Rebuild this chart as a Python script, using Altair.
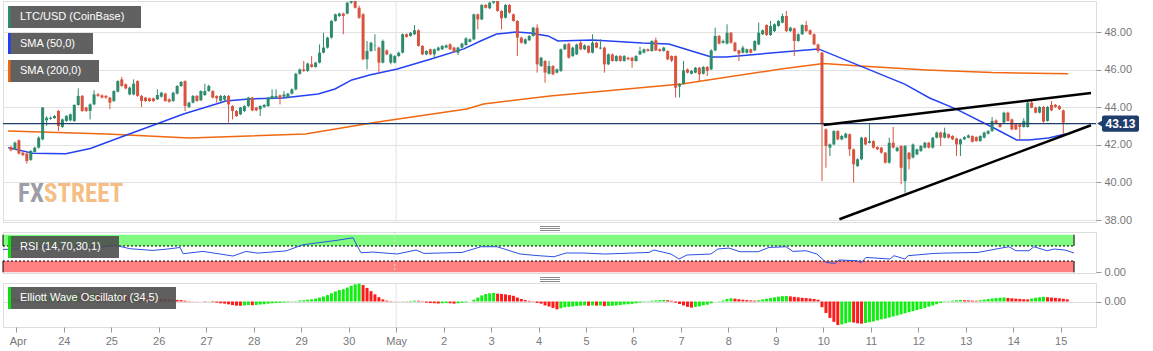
import json
import altair as alt
import pandas as pd

# ---------------- data ----------------
# 2-hour candles, hours counted from 23 Apr 00:00
FIRST_T = -2.7
STEP_T = 2.0

OPEN = [41.88,41.76,42.24,41.58,41.53,41.20,41.62,41.85,42.29,43.30,
        43.38,43.42,43.80,42.95,43.27,43.30,43.27,44.12,44.60,43.98,
        43.80,44.15,44.68,44.63,44.60,44.51,44.33,44.83,45.48,45.22,
        44.68,44.68,45.39,44.60,44.51,44.47,44.47,44.42,44.56,44.72,
        44.42,44.33,44.72,45.13,45.39,44.01,44.24,44.60,44.37,44.65,
        44.86,44.86,44.60,44.33,44.40,44.60,44.06,43.80,43.62,43.80,
        44.06,44.51,43.98,43.89,44.01,44.06,44.47,44.51,44.63,44.56,
        44.51,44.72,44.95,45.78,46.01,45.93,46.28,46.14,46.37,46.90,
        47.17,47.70,48.59,48.85,48.98,48.98,49.56,49.70,49.29,48.94,
        46.55,46.99,47.28,47.17,46.37,47.02,46.37,46.37,46.72,46.90,
        47.88,47.79,47.88,48.09,47.26,46.81,47.08,46.81,47.02,47.08,
        47.17,47.34,47.17,46.90,47.17,47.31,47.48,47.61,48.94,48.67,
        49.44,49.26,49.56,49.68,49.12,48.76,49.44,48.94,48.59,47.70,
        47.38,47.56,47.79,48.23,46.19,46.46,45.78,46.19,45.84,45.93,
        47.08,47.38,46.72,46.81,47.43,47.08,47.26,46.90,47.43,47.12,
        47.17,46.28,46.81,46.46,46.72,46.46,46.63,46.63,46.46,46.81,
        46.90,47.08,46.99,47.56,47.08,46.99,46.99,46.72,46.72,45.10,
        45.25,46.01,45.78,45.84,46.10,45.78,46.14,46.01,47.02,47.79,
        47.43,47.38,47.96,47.43,47.02,46.90,46.90,47.08,47.02,47.34,
        47.88,48.37,47.84,48.05,48.32,48.50,48.85,48.05,48.19,47.52,
        47.88,48.37,48.09,47.88,47.34,46.90,42.82,41.85,42.02,42.73,
        42.29,42.38,42.56,41.76,40.87,41.23,42.38,42.11,42.20,41.88,
        41.85,41.58,41.05,42.11,41.67,41.94,40.07,41.58,41.32,41.49,
        41.67,41.85,42.11,41.85,42.38,42.65,42.38,42.56,42.47,42.34,
        42.02,42.29,42.38,42.47,42.41,42.20,42.38,42.59,42.73,43.30,
        43.12,43.18,43.71,43.35,43.09,43.09,42.95,42.95,44.24,43.98,
        43.71,44.01,43.27,44.12,44.12,44.06,43.83,43.12]
HIGH = [41.95,42.18,42.28,41.62,41.58,41.72,41.90,42.45,44.01,43.52,
        43.50,43.58,43.85,43.40,43.58,43.66,44.15,45.00,44.65,44.02,
        44.20,44.90,44.75,44.68,44.65,44.55,44.90,45.43,45.61,45.26,
        45.10,45.48,45.43,44.65,44.55,44.51,44.51,44.95,44.82,44.77,
        44.47,44.82,45.17,45.39,45.43,44.29,44.65,44.65,44.90,45.25,
        45.20,44.90,44.63,44.65,44.65,44.65,44.10,43.85,44.02,44.10,
        44.55,44.55,44.02,44.10,44.17,44.55,44.95,44.95,44.68,44.86,
        44.77,45.00,45.83,46.06,46.46,46.37,46.72,46.42,47.34,47.96,
        47.75,48.63,48.98,49.03,49.03,49.60,49.95,49.90,49.40,49.00,
        47.52,47.48,47.88,47.22,47.60,47.08,46.86,46.77,46.95,47.93,
        47.93,48.00,48.37,48.14,47.30,47.03,47.12,47.12,47.22,47.30,
        47.34,47.40,47.22,47.22,47.43,47.72,47.66,48.98,48.98,49.48,
        49.48,49.60,49.80,49.75,49.16,49.48,49.48,48.98,48.63,47.75,
        47.66,47.84,48.28,48.41,46.68,46.50,46.46,46.24,46.06,47.12,
        47.38,47.43,47.22,47.38,47.52,47.34,47.30,47.88,47.48,47.61,
        47.22,46.86,46.86,46.77,46.77,46.77,46.68,46.68,46.77,47.22,
        47.12,47.12,47.56,47.70,47.12,47.22,47.03,46.76,46.76,45.28,
        46.46,46.06,45.98,46.14,46.14,46.19,46.19,47.08,48.23,47.84,
        47.60,48.41,48.00,47.48,47.06,47.26,47.12,47.12,47.56,48.50,
        48.14,48.41,48.59,48.46,48.63,48.98,49.12,48.28,48.23,47.93,
        48.41,48.59,48.14,47.93,47.38,46.95,42.87,42.07,42.78,42.78,
        42.52,42.64,42.60,41.80,41.28,42.42,42.42,43.09,42.24,41.92,
        41.89,41.62,42.38,42.95,41.90,41.98,41.98,41.62,42.07,41.80,
        41.98,42.16,42.16,42.42,42.70,42.70,42.91,42.60,42.51,42.38,
        42.33,42.46,42.55,42.51,42.45,42.51,42.70,42.78,43.48,43.35,
        43.16,43.76,43.76,43.40,43.14,43.14,43.41,44.29,44.37,44.02,
        44.06,44.06,44.06,44.33,44.17,44.11,43.88,43.16]
LOW = [41.65,41.72,41.49,41.40,41.00,41.15,41.58,41.80,42.24,43.00,
       43.33,43.38,42.73,42.90,43.22,43.25,43.22,44.08,43.75,43.75,
       43.35,44.10,44.55,44.47,44.45,43.89,44.28,44.78,45.08,44.95,
       44.63,44.63,44.55,44.01,44.28,44.28,44.28,44.38,44.51,44.29,
       44.24,44.29,44.68,45.08,43.80,43.95,44.20,44.29,44.33,44.60,
       44.82,44.47,44.24,44.29,44.29,43.18,43.35,43.48,43.58,43.75,
       44.01,43.78,43.78,43.53,43.97,44.01,44.42,44.47,44.15,44.51,
       44.47,44.68,44.90,45.73,45.88,45.88,46.10,46.10,46.33,46.86,
       47.12,47.65,48.55,48.80,47.88,48.94,49.50,49.25,48.70,46.50,
       46.01,46.95,46.99,45.84,46.33,46.77,46.28,46.33,46.68,46.86,
       47.70,47.75,47.84,47.22,46.77,46.77,46.77,46.63,46.98,47.04,
       47.13,47.04,46.90,46.77,47.13,47.27,47.44,47.56,48.14,48.63,
       49.25,49.22,49.50,49.08,48.14,48.72,48.98,48.55,46.72,47.38,
       47.34,47.52,47.75,45.84,46.14,45.30,45.74,45.70,45.80,45.88,
       47.04,46.59,46.68,46.77,47.04,47.04,46.86,46.86,47.13,47.08,
       45.84,46.24,46.42,46.42,46.42,46.42,46.50,46.10,46.42,46.77,
       46.86,46.95,46.95,46.98,46.95,46.95,46.50,46.40,44.51,44.51,
       45.20,45.80,45.74,45.80,45.39,45.74,45.66,45.97,46.98,47.34,
       47.38,47.34,47.38,46.95,46.46,46.86,46.86,46.86,46.98,47.30,
       47.84,47.79,47.79,48.00,48.28,48.46,48.00,48.00,46.72,47.48,
       47.84,48.00,47.84,47.30,46.90,40.07,40.78,41.40,41.98,42.24,
       42.24,42.34,41.40,39.99,40.82,41.18,41.98,42.07,41.80,41.72,
       41.54,41.00,41.00,41.80,41.62,39.90,39.45,40.70,41.28,41.45,
       41.62,41.80,41.80,41.80,42.34,41.94,42.34,42.34,42.25,41.40,
       41.40,42.25,42.34,42.12,42.16,42.16,42.34,42.55,42.69,43.08,
       42.91,43.14,43.23,42.78,42.78,42.29,42.91,42.91,43.94,43.67,
       43.67,43.18,43.23,43.79,43.97,43.85,42.59,43.08]
CLOSE = [41.71,42.11,41.53,41.46,41.14,41.67,41.85,42.38,43.98,43.44,
         43.44,43.53,43.00,43.35,43.53,43.62,44.12,44.60,43.80,43.80,
         44.15,44.68,44.60,44.51,44.51,44.24,44.86,45.39,45.13,45.00,
         45.04,45.25,44.60,44.33,44.33,44.33,44.33,44.65,44.77,44.33,
         44.29,44.77,45.13,45.34,44.06,44.24,44.60,44.33,44.86,44.86,
         45.13,44.51,44.47,44.60,44.60,44.15,43.80,43.53,43.98,44.06,
         44.51,43.83,43.83,44.06,44.12,44.51,44.60,44.60,44.47,44.68,
         44.72,44.95,45.78,46.01,45.93,46.32,46.14,46.37,46.90,47.17,
         47.70,48.59,48.94,48.98,48.85,49.56,49.70,49.29,48.76,46.55,
         46.99,47.43,47.30,46.37,47.52,46.81,46.81,46.72,46.90,47.88,
         47.74,47.96,48.09,47.26,46.81,46.99,46.81,47.08,47.17,47.26,
         47.29,47.08,46.95,47.17,47.38,47.66,47.61,48.94,48.67,49.44,
         49.29,49.56,49.68,49.12,48.73,49.44,49.03,48.59,47.70,47.43,
         47.61,47.79,48.23,46.28,46.63,45.84,46.19,45.75,46.01,47.08,
         47.34,46.63,47.17,47.34,47.08,47.29,46.90,47.43,47.17,47.17,
         46.28,46.81,46.46,46.72,46.46,46.72,46.55,46.46,46.72,46.99,
         47.08,46.99,47.52,47.02,46.99,47.17,46.55,46.48,45.04,45.22,
         45.96,45.84,45.93,46.10,45.75,46.14,45.93,47.02,47.79,47.38,
         47.52,47.96,47.43,46.99,46.85,47.17,47.08,46.90,47.52,47.96,
         48.09,47.84,48.32,48.41,48.59,48.85,48.05,48.23,47.52,47.88,
         48.37,48.05,47.88,47.34,46.99,43.09,41.94,42.02,42.73,42.29,
         42.47,42.59,41.76,40.96,41.23,42.38,42.02,42.20,41.85,41.76,
         41.58,41.05,42.11,41.85,41.85,40.78,41.94,41.23,42.02,41.76,
         41.94,42.11,41.85,42.38,42.65,42.38,42.65,42.38,42.29,42.02,
         42.29,42.41,42.50,42.16,42.20,42.47,42.65,42.73,43.27,43.12,
         42.95,43.71,43.27,42.82,42.82,42.95,43.27,44.24,43.98,43.71,
         44.01,43.23,44.01,43.83,44.01,43.89,43.18,43.13]

SMA50_T = [-4.2, 8.3, 25.0, 37.4, 54.4, 70.9, 84.5, 106.0, 117.5, 134.6, 152.6,
           161.1, 169.6, 178.6, 192.6, 209.7, 226.2, 234.7, 242.8, 252.8, 259.8,
           268.8, 273.8, 291.3, 316.4, 329.9, 341.4, 351.4, 358.9, 381.5, 405.5,
           449.1, 461.7, 475.2, 495.2, 505.7, 511.8, 521.8, 530.3, 532.3]
SMA50_V = [41.85, 41.55, 41.52, 41.80, 42.47, 43.11, 43.64, 44.33, 44.44, 44.49, 44.70,
           44.97, 45.45, 45.71, 46.03, 46.56, 47.10, 47.52, 47.89, 48.00, 47.95,
           47.79, 47.52, 47.57, 47.41, 47.36, 46.99, 46.67, 46.67, 46.88, 47.10,
           45.23, 44.49, 43.90, 42.84, 42.26, 42.26, 42.36, 42.57, 42.57]
SMA200_T = [-4.2, 45.9, 87.5, 146.1, 179.6, 186.2, 227.7, 236.2, 269.8, 336.4,
            386.5, 408.1, 426.6, 460.2, 493.2, 531.8]
SMA200_V = [42.73, 42.57, 42.36, 42.57, 43.16, 43.27, 43.90, 44.17, 44.60, 45.23,
            46.03, 46.33, 46.19, 45.98, 45.84, 45.78]

UPPER_T = [408.1, 543.3]
UPPER_V = [43.05, 44.76]
LOWER_T = [416.1, 543.3]
LOWER_V = [38.04, 43.04]
LAST_PRICE = 43.13

RSI_T = [-4.2, 3.3, 15.8, 29.4, 45.9, 51.0, 59.4, 70.9, 78.4, 84.5, 86.0, 96.0,
         111.0, 117.5, 123.5, 137.6, 146.1, 162.6, 171.1, 175.1, 181.1, 193.2,
         202.7, 206.7, 225.7, 235.2, 243.3, 254.8, 264.3, 271.8, 277.8, 286.3,
         297.3, 319.4, 321.9, 330.4, 334.4, 338.4, 350.4, 353.9, 359.5, 365.0,
         374.0, 379.5, 388.0, 391.5, 398.0, 403.5, 408.1, 412.6, 414.6, 423.6,
         425.6, 428.1, 440.1, 442.1, 447.6, 449.1, 462.2, 469.2, 484.2, 493.2,
         499.7, 503.2, 509.7, 512.2, 518.8, 522.3, 527.8, 532.3]
RSI_V = [60.8, 62.0, 66.0, 64.5, 67.0, 73.0, 62.7, 58.2, 62.0, 66.0, 49.4, 55.5,
         43.3, 55.5, 51.0, 57.0, 73.3, 84.7, 91.8, 52.0, 53.9, 48.6,
         59.2, 50.2, 52.8, 68.0, 68.0, 48.6, 44.1, 41.4, 51.3, 51.3,
         48.6, 52.8, 59.2, 48.6, 35.3, 46.0, 48.6, 61.9, 64.5, 54.7,
         54.7, 66.1, 68.0, 55.5, 57.4, 48.6, 26.3, 23.7, 32.7, 30.8,
         25.5, 39.6, 35.3, 44.1, 35.3, 44.1, 50.2, 51.3, 52.8, 61.9,
         68.0, 57.4, 57.4, 68.0, 57.4, 61.9, 59.2, 51.3]
RSI_BANDS_LO = [70, 0]
RSI_BANDS_HI = [100, 30]

EWO = [0.30,0.35,0.30,0.25,0.20,0.25,0.30,0.40,0.55,0.65,
       0.75,0.85,0.82,0.88,0.92,0.98,1.05,1.15,1.10,1.05,
       1.08,1.15,1.12,1.08,1.02,0.95,0.97,1.05,1.02,0.95,
       0.90,0.92,0.85,0.75,0.65,0.55,0.48,0.45,0.42,0.35,
       0.28,0.25,0.22,0.20,0.12,0.05,0.02,-0.02,0.00,-0.05,
       -0.03,-0.08,-0.15,-0.25,-0.30,-0.40,-0.50,-0.58,-0.60,-0.55,
       -0.50,-0.52,-0.48,-0.42,-0.38,-0.30,-0.25,-0.20,-0.18,-0.12,
       -0.08,-0.04,0.05,0.15,0.18,0.25,0.30,0.40,0.55,0.70,
       0.90,1.15,1.40,1.60,1.72,1.95,2.20,2.40,2.50,2.30,
       1.90,1.45,1.00,0.60,0.30,0.12,0.05,0.02,-0.02,0.04,
       0.03,0.08,0.12,0.10,-0.05,-0.15,-0.22,-0.25,-0.28,-0.25,
       -0.22,-0.25,-0.30,-0.25,-0.18,-0.10,0.00,0.25,0.55,0.85,
       1.05,1.15,1.20,1.10,1.05,1.00,0.90,0.80,0.55,0.35,
       0.20,0.10,0.05,-0.20,-0.30,-0.55,-0.70,-0.90,-1.10,-0.95,
       -0.80,-0.75,-0.70,-0.62,-0.58,-0.55,-0.60,-0.55,-0.58,-0.55,
       -0.65,-0.62,-0.60,-0.55,-0.50,-0.42,-0.38,-0.33,-0.25,-0.15,
       -0.05,0.05,0.12,0.15,0.20,0.22,0.18,0.10,-0.15,-0.35,
       -0.55,-0.75,-0.85,-0.75,-0.68,-0.55,-0.45,-0.25,0.00,0.05,
       0.15,0.35,0.45,0.40,0.32,0.25,0.20,0.15,0.12,0.18,
       0.28,0.38,0.48,0.58,0.68,0.75,0.78,0.72,0.65,0.58,
       0.52,0.48,0.42,0.35,0.25,-0.80,-1.60,-2.30,-2.85,-3.30,
       -3.20,-3.05,-2.90,-2.95,-3.05,-3.10,-3.00,-2.90,-2.80,-2.65,
       -2.50,-2.40,-2.25,-2.10,-1.95,-1.80,-1.65,-1.50,-1.35,-1.20,
       -1.05,-0.90,-0.72,-0.55,-0.38,-0.20,-0.05,0.05,0.12,0.18,
       0.22,0.18,0.15,0.12,0.10,0.18,0.26,0.34,0.42,0.48,
       0.53,0.56,0.50,0.45,0.40,0.36,0.32,0.30,0.42,0.52,
       0.60,0.66,0.60,0.55,0.50,0.45,0.38,0.30]

DAY_TICKS = list(range(0, 529, 24))
DAY_LABELS = ["Apr"] + [str(d) for d in range(24, 31)] + ["May"] + [str(d) for d in range(2, 16)]
PRICE_TICKS = [38, 40, 42, 44, 46, 48]
MAY_T = 192

LEGEND_MAIN = ["LTC/USD (CoinBase)", "SMA (50,0)", "SMA (200,0)"]
LEGEND_ACCENT = ["#2e8b6e", "#1d3cff", "#f0680f"]
RSI_LABEL = "RSI (14,70,30,1)"
EWO_LABEL = "Elliott Wave Oscillator (34,5)"

# ---------------- frames ----------------
n = len(CLOSE)
T = [FIRST_T + STEP_T * i for i in range(n)]
UP_C, DN_C = "#2e8b6e", "#d9533f"
candles = pd.DataFrame({"t": T, "o": OPEN, "h": HIGH, "l": LOW, "c": CLOSE})
candles["col"] = [UP_C if c >= o else DN_C for o, c in zip(OPEN, CLOSE)]

ewo = pd.DataFrame({"t": T, "v": EWO})
ewo["col"] = ["#11ee11" if (i == 0 or EWO[i] >= EWO[i - 1]) else "#ff1a1a" for i in range(n)]

sma50 = pd.DataFrame({"t": SMA50_T, "v": SMA50_V})
sma200 = pd.DataFrame({"t": SMA200_T, "v": SMA200_V})
upper = pd.DataFrame({"t": UPPER_T, "v": UPPER_V})
lower = pd.DataFrame({"t": LOWER_T, "v": LOWER_V})
rsi = pd.DataFrame({"t": RSI_T, "v": RSI_V})
T_END = T[-1] + 1.0
T_START = -4.21
bands = pd.DataFrame({"t1": [T_START, T_START], "t2": [T_END, T_END],
                      "lo": RSI_BANDS_LO, "hi": RSI_BANDS_HI,
                      "col": ["#80fa80", "#ff8080"]})
one = pd.DataFrame({"k": [0]})

# ---------------- scales / axes ----------------
XS = alt.Scale(domain=[T_START, 543.3], nice=False, zero=False)
GREY = "#777777"
FONT = "Liberation Sans"

def X(field="t", axis=None):
    return alt.X(f"{field}:Q", scale=XS, axis=axis, title=None)

YS_MAIN = alt.Scale(domain=[37.894, 49.649], nice=False, zero=False)
AX_MAIN = alt.Axis(orient="right", values=PRICE_TICKS, format=".2f", title=None,
                   domain=False, grid=True, gridColor="#e2e2e2", tickColor="#9a9a9a",
                   tickSize=5, labelColor=GREY, labelFontSize=11, labelFont=FONT,
                   labelPadding=3)

def YM(field):
    return alt.Y(f"{field}:Q", scale=YS_MAIN, axis=AX_MAIN, title=None)

W = 1093

# ---------------- main panel ----------------
may_main = alt.Chart(one).mark_rule(color="#e2e2e2", strokeWidth=1).encode(
    x=alt.X("x:Q", scale=XS, axis=None), y=alt.value(0), y2=alt.value(221)
).transform_calculate(x=str(MAY_T))

sma200_l = alt.Chart(sma200).mark_line(color="#f0680f", strokeWidth=1.5, clip=True).encode(
    x=X(), y=YM("v"))
sma50_l = alt.Chart(sma50).mark_line(color="#2442f2", strokeWidth=1.5, clip=True).encode(
    x=X(), y=YM("v"))
wicks = alt.Chart(candles).mark_rule(strokeWidth=1, clip=True).encode(
    x=X(), y=YM("l"), y2="h:Q", color=alt.Color("col:N", scale=None))
bodies = alt.Chart(candles).mark_bar(size=3, clip=True).encode(
    x=X(), y=YM("o"), y2="c:Q", color=alt.Color("col:N", scale=None))
last_line = alt.Chart(one).mark_rule(color="#1f3d6b", strokeWidth=1.3).encode(
    y=alt.Y("p:Q", scale=YS_MAIN, axis=AX_MAIN, title=None)
).transform_calculate(p=str(LAST_PRICE))
up_l = alt.Chart(upper).mark_line(color="#000000", strokeWidth=2.5, clip=True).encode(
    x=X(), y=YM("v"))
lo_l = alt.Chart(lower).mark_line(color="#000000", strokeWidth=2.5, clip=True).encode(
    x=X(), y=YM("v"))

# price tag on the right
tag_df = pd.DataFrame({"p": [LAST_PRICE], "p1": [LAST_PRICE - 0.43], "p2": [LAST_PRICE + 0.43],
                       "txt": [f"{LAST_PRICE:.2f}"]})
tag_rect = alt.Chart(tag_df).mark_rect(color="#1f3d6b", cornerRadius=2).encode(
    x=alt.value(1099), x2=alt.value(1136),
    y=alt.Y("p1:Q", scale=YS_MAIN, axis=AX_MAIN, title=None), y2="p2:Q")
tag_tri = alt.Chart(tag_df).mark_point(shape="triangle-left", filled=True, size=45,
                                       color="#1f3d6b", opacity=1).encode(
    x=alt.value(1097), y=alt.Y("p:Q", scale=YS_MAIN, axis=AX_MAIN, title=None))
tag_txt = alt.Chart(tag_df).mark_text(color="white", fontWeight="bold", fontSize=12,
                                      font=FONT, align="center", baseline="middle").encode(
    x=alt.value(1117.5), y=alt.Y("p:Q", scale=YS_MAIN, axis=AX_MAIN, title=None),
    text="txt:N")

# legend boxes
leg_df = pd.DataFrame({"txt": LEGEND_MAIN, "acc": LEGEND_ACCENT,
                       "x2": [138, 90, 96], "y1": [5, 32, 59], "y2": [27, 53, 81],
                       "yc": [16, 42.5, 70]})
leg_boxes = []
for _, r in leg_df.iterrows():
    d = pd.DataFrame([r])
    leg_boxes.append(alt.Chart(d).mark_rect(color="#585858", opacity=0.95).encode(
        x=alt.value(5), x2=alt.value(float(r.x2)), y=alt.value(float(r.y1)), y2=alt.value(float(r.y2))))
    leg_boxes.append(alt.Chart(d).mark_rect(color=r.acc).encode(
        x=alt.value(5), x2=alt.value(7.5), y=alt.value(float(r.y1)), y2=alt.value(float(r.y2))))
    leg_boxes.append(alt.Chart(d).mark_text(color="white", fontSize=11, font=FONT,
                                            align="left", baseline="middle").encode(
        x=alt.value(17), y=alt.value(float(r.yc)), text="txt:N"))

WM_FONT = "Roboto Condensed, Liberation Sans Narrow, Roboto"
wm_fx = alt.Chart(pd.DataFrame({"txt": ["FX"]})).mark_text(
    color="#8d8d9b", fontSize=25, fontWeight="bold", font=WM_FONT,
    align="right", baseline="alphabetic", opacity=0.85).encode(
    x=alt.value(41), y=alt.value(201), text="txt:N")
wm_st = alt.Chart(pd.DataFrame({"txt": ["STREET"]})).mark_text(
    color="#f3b877", fontSize=25, fontWeight="bold", font=WM_FONT,
    align="left", baseline="alphabetic", opacity=0.9).encode(
    x=alt.value(41), y=alt.value(201), text="txt:N")

main = alt.layer(
    may_main, wm_fx, wm_st, sma200_l, sma50_l, wicks, bodies,
    last_line, up_l, lo_l, *leg_boxes, tag_rect, tag_tri, tag_txt
).properties(width=W, height=221)

# ---------------- RSI panel ----------------
YS_RSI = alt.Scale(domain=[-1.86, 107.2], nice=False, zero=False)
AX_RSI = alt.Axis(orient="right", values=[0], format=".2f", title=None, domain=False,
                  grid=False, tickColor="#9a9a9a", tickSize=5, labelColor=GREY,
                  labelFontSize=11, labelFont=FONT, labelPadding=3)

def YR(field):
    return alt.Y(f"{field}:Q", scale=YS_RSI, axis=AX_RSI, title=None)

band_rect = alt.Chart(bands).mark_rect().encode(
    x=X("t1"), x2="t2:Q", y=YR("lo"), y2="hi:Q", color=alt.Color("col:N", scale=None))
band_dash = alt.Chart(pd.DataFrame({"t1": [T_START], "t2": [T_END], "lv": [70]})).mark_rule(
    color="#000000", strokeWidth=1, strokeDash=[2, 2]).encode(
    x=X("t1"), x2="t2:Q", y=YR("lv"))
band_dash2 = alt.Chart(pd.DataFrame({"t1": [T_START], "t2": [T_END], "lv": [30]})).mark_rule(
    color="#000000", strokeWidth=1, strokeDash=[2, 2]).encode(
    x=X("t1"), x2="t2:Q", y=YR("lv"))
band_edges = alt.Chart(pd.DataFrame({"t": [T_START, T_START, T_END, T_END],
                                     "lo": [70, 0, 70, 0], "hi": [100, 30, 100, 30]})).mark_rule(
    color="#000000", strokeWidth=1).encode(x=X(), y=YR("lo"), y2="hi:Q")
may_rsi = alt.Chart(one).mark_rule(color="#dddddd", strokeDash=[2, 2]).encode(
    x=alt.X("x:Q", scale=XS, axis=None), y=alt.value(0), y2=alt.value(41)
).transform_calculate(x=str(MAY_T))
rsi_line = alt.Chart(rsi).mark_line(color="#2d4fe6", strokeWidth=1).encode(x=X(), y=YR("v"))

def sep_rules():
    return [alt.Chart(one).mark_rule(color="#8a8a8a", strokeWidth=1).encode(
        x=alt.value(537), x2=alt.value(557), y=alt.value(yy)) for yy in (-5.5, -3.5, -1.5)]

def label_box(text, x2):
    return [
        alt.Chart(pd.DataFrame({"txt": [text]})).mark_rect(color="#4e4e4e", opacity=0.9).encode(
            x=alt.value(5), x2=alt.value(x2), y=alt.value(4), y2=alt.value(26)),
        alt.Chart(one).mark_rect(color="#11dd11").encode(
            x=alt.value(5), x2=alt.value(8), y=alt.value(4), y2=alt.value(26)),
        alt.Chart(pd.DataFrame({"txt": [text]})).mark_text(
            color="white", fontSize=11, font=FONT, align="left", baseline="middle").encode(
            x=alt.value(17), y=alt.value(15), text="txt:N"),
    ]

rsi_panel = alt.layer(
    band_rect, may_rsi, band_dash, band_dash2, band_edges, rsi_line,
    *label_box(RSI_LABEL, 116), *sep_rules()
).properties(width=W, height=41)

# ---------------- EWO panel ----------------
YS_EWO = alt.Scale(domain=[-3.57, 2.59], nice=False, zero=False)
AX_EWO = alt.Axis(orient="right", values=[0], format=".2f", title=None, domain=False,
                  grid=True, gridColor="#dcdcdc", tickColor="#9a9a9a", tickSize=5,
                  labelColor=GREY, labelFontSize=11, labelFont=FONT, labelPadding=3)
AX_X = alt.Axis(values=DAY_TICKS, labelExpr=f"{json.dumps(DAY_LABELS)}[round(datum.value / 24)]",
                tickSize=5, tickColor="#9a9a9a", labelColor=GREY, labelFontSize=11,
                labelFont=FONT, labelPadding=3, domain=False, grid=False, title=None,
                labelOffset={"condition": {"test": "datum.value == 0", "value": 1.5}, "value": 0})

ewo_bars = alt.Chart(ewo).mark_bar(size=3).encode(
    x=X("t", AX_X), y=alt.Y("v:Q", scale=YS_EWO, axis=AX_EWO, title=None),
    y2=alt.datum(0), color=alt.Color("col:N", scale=None))
may_ewo = alt.Chart(one).mark_rule(color="#e2e2e2").encode(
    x=alt.X("x:Q", scale=XS, axis=AX_X), y=alt.value(0), y2=alt.value(44)
).transform_calculate(x=str(MAY_T))

ewo_panel = alt.layer(
    may_ewo, ewo_bars, *label_box(EWO_LABEL, 173), *sep_rules()
).properties(width=W, height=44)

chart = alt.vconcat(main, rsi_panel, ewo_panel, spacing=10, bounds="flush").properties(
    padding={"left": 0, "top": 0, "right": 0, "bottom": 0}
).configure_view(fill="#f7f7f7", stroke="#d3d7e3", strokeWidth=1).configure(
    background="white")

chart.save("out.html", embed_options={"renderer": "svg", "actions": False})
